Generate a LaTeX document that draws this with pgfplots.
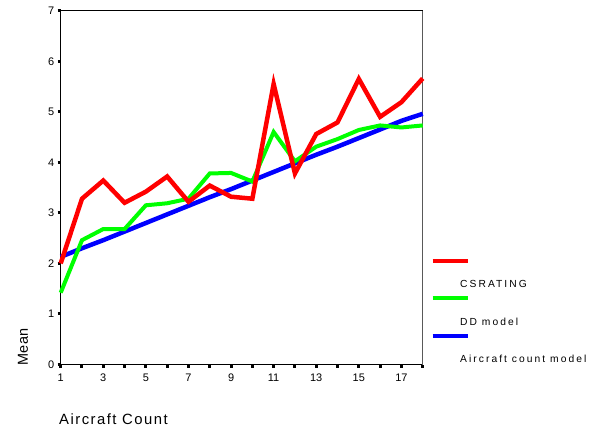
\documentclass[border=0pt]{standalone}
\usepackage{fontspec}
\setmainfont{Liberation Sans}
\usepackage{pgfplots}
\pgfplotsset{compat=1.18}
\begin{document}
\begin{tikzpicture}
\begin{axis}[
 at={(0,0)}, anchor=south west,
 scale only axis, width=362bp, height=353.8bp,
 xmin=1, xmax=18, ymin=0, ymax=7,
 axis x line=bottom, axis y line=left,
 axis line style={-, line width=1.4bp, black},
 xtick={1,...,18}, xticklabels={1,,3,,5,,7,,9,,11,,13,,15,,17,},
 ytick={0,...,7},
 tick align=outside,
 major tick length=3bp,
 tick style={line width=3bp, black},
 ticklabel style={font=\fontsize{11}{13}\selectfont},
 xticklabel style={yshift=-3bp},
 /pgf/number format/assume math mode=true,
 clip=false,
]
\draw[black, line width=0.8bp] (rel axis cs:0,1) -- (rel axis cs:1,1);
\draw[black!65, line width=1bp] (rel axis cs:1,1) -- (rel axis cs:1,0);
\addplot[blue, line width=4.5bp] coordinates {
(1,2.13) (2,2.30) (3,2.46) (4,2.63) (5,2.80) (6,2.97) (7,3.14) (8,3.31) (9,3.47)
(10,3.64) (11,3.81) (12,3.98) (13,4.15) (14,4.31) (15,4.48) (16,4.65) (17,4.82) (18,4.96)};
\addplot[green, line width=4bp] coordinates {
(1,1.42) (2,2.46) (3,2.68) (4,2.68) (5,3.15) (6,3.19) (7,3.28) (8,3.78) (9,3.79)
(10,3.62) (11,4.60) (12,4.02) (13,4.31) (14,4.46) (15,4.64) (16,4.73) (17,4.69) (18,4.73)};
\addplot[red, line width=4.5bp] coordinates {
(1,2.00) (2,3.28) (3,3.64) (4,3.20) (5,3.42) (6,3.72) (7,3.22) (8,3.54) (9,3.32)
(10,3.28) (11,5.55) (12,3.78) (13,4.56) (14,4.79) (15,5.65) (16,4.90) (17,5.19) (18,5.66)};
\end{axis}
% legend (SPSS style: lines offset from labels)
\draw[red, line width=4bp] (372bp,103.8bp) -- (407bp,103.8bp);
\draw[green, line width=4bp] (372bp,66.2bp) -- (407bp,66.2bp);
\draw[blue, line width=4bp] (372bp,28.5bp) -- (407bp,28.5bp);
\begin{scope}[every node/.style={anchor=base west, inner sep=0pt, font=\fontsize{10.3}{12}\selectfont\addfontfeature{LetterSpace=20}}]
\node at (399.3bp,77.2bp) {CSRATING};
\node at (399.3bp,39.5bp) {DD model};
\node at (399.3bp,2.2bp) {Aircraft count model};
\end{scope}
\node[rotate=90, inner sep=0pt, font=\fontsize{14.5}{16}\selectfont\addfontfeature{LetterSpace=3}] at (-37.7bp,17.5bp) {Mean};
\node[anchor=base west, inner sep=0pt, font=\fontsize{14.9}{17}\selectfont\addfontfeature{LetterSpace=10}] at (-1.7bp,-59.5bp) {Aircraft Count};
\pgfresetboundingbox
\path[use as bounding box] (-60.7bp,-62.5bp) rectangle (542.3bp,364.5bp);
\end{tikzpicture}
\end{document}
